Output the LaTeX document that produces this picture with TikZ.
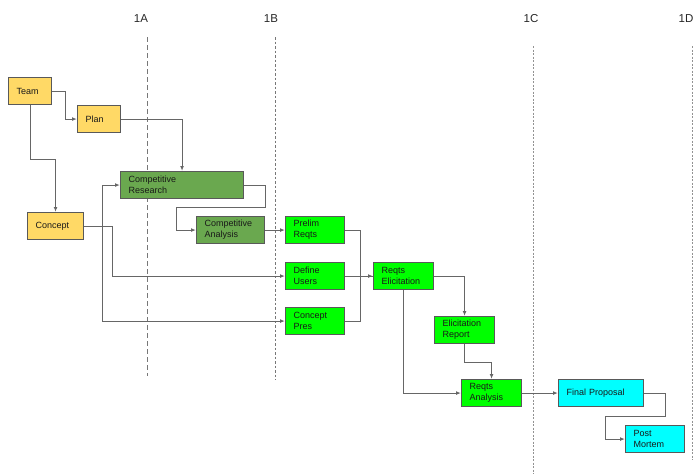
\documentclass[tikz,border=0pt]{standalone}
\usepackage{fontspec}
\setmainfont{Liberation Sans}
\usetikzlibrary{arrows.meta}

\definecolor{boxline}{HTML}{595959}
\definecolor{connline}{HTML}{666666}
\definecolor{startyellow}{HTML}{FFD966}
\definecolor{researchgreen}{HTML}{6AA84F}
\definecolor{reqgreen}{HTML}{00FF00}
\definecolor{finalcyan}{HTML}{00FFFF}
\definecolor{phaseline}{HTML}{777777}

\tikzset{
  taskbox/.style={draw=boxline, line width=1.1pt, anchor=north west,
    inner xsep=8pt, inner ysep=0pt, minimum height=27pt, align=left,
    text width=#1, font=\fontsize{9}{11}\selectfont, text=black!90},
  conn/.style={draw=connline, line width=0.95pt,
    -{Latex[length=5pt,width=3.8pt]}},
  link/.style={draw=connline, line width=0.95pt},
  phaseA/.style={draw=phaseline, line width=0.9pt, dash pattern=on 5pt off 3pt},
  phaseB/.style={draw=phaseline, line width=0.9pt, dash pattern=on 2.5pt off 2pt},
  phaseC/.style={draw=phaseline!80, line width=0.9pt, dash pattern=on 2pt off 1.5pt},
  phaselabel/.style={font=\fontsize{11.5}{13}\selectfont, text=black!85}
}

\begin{document}
\begin{tikzpicture}[x=1pt, y=-1pt]
\useasboundingbox (0,0) rectangle (696,474);

% phase separators and their labels
\node[phaselabel] (lA) at (141,19) {1A};
\node[phaselabel] (lB) at (271,19) {1B};
\node[phaselabel] (lC) at (531,19) {1C};
\node[phaselabel] (lD) at (686,19) {1D};
\draw[phaseA] (147,37) -- (147,376);
\draw[phaseB] (275,37) -- (275,380);
\draw[phaseC] (533,46) -- (533,474);
\draw[phaseC] (692,46) -- (692,460);

% tasks
\node[taskbox=27pt,  fill=startyellow] (team) at (8,77) {Team};
\node[taskbox=27pt,  fill=startyellow] (plan) at (77,105) {Plan};
\node[taskbox=40pt,  fill=startyellow] (concept) at (27,212) {Concept};
\node[taskbox=107pt, fill=researchgreen] (cr) at (120,171) {Competitive\\Research};
\node[taskbox=52pt,  fill=researchgreen] (ca) at (196,216) {Competitive\\Analysis};
\node[taskbox=43pt,  fill=reqgreen] (pr) at (285,216) {Prelim\\Reqts};
\node[taskbox=43pt,  fill=reqgreen] (du) at (285,262) {Define\\Users};
\node[taskbox=43pt,  fill=reqgreen] (cp) at (285,307) {Concept\\Pres};
\node[taskbox=44pt,  fill=reqgreen] (re) at (373,262) {Reqts\\Elicitation};
\node[taskbox=44pt,  fill=reqgreen] (er) at (434,316) {Elicitation\\Report};
\node[taskbox=44pt,  fill=reqgreen] (ra) at (461,379) {Reqts\\Analysis};
\node[taskbox=69pt,  fill=finalcyan] (fp) at (558,379) {Final Proposal};
\node[taskbox=43pt,  fill=finalcyan] (pm) at (625,425) {Post\\Mortem};

% dependencies
\draw[conn] (team.east) -- ++(13,0) |- (plan.west);
\draw[conn] (team.south) -- ++(0,54) -| (concept.north);
\draw[conn] (plan.east) -| (cr.north);
\draw[conn] (concept.east) -- ++(18,0) |- (cr.west);
\draw[conn] (concept.east) -- ++(18,0) |- (cp.west);
\draw[conn] (concept.east) -- ++(28,0) |- (du.west);
\draw[conn] (cr.east) -- ++(21,0) -- ++(0,22.5) -- ++(-89,0) |- (ca.west);
\draw[conn] (ca.east) -- (pr.west);
\draw[link] (pr.east) -- ++(15,0) |- (re.west);
\draw[link] (cp.east) -- ++(15,0) |- (re.west);
\draw[conn] (du.east) -- (re.west);
\draw[conn] (re.east) -| (er.north);
\draw[conn] (re.south) |- (ra.west);
\draw[conn] (er.south) -- ++(0,18) -| (ra.north);
\draw[conn] (ra.east) -- (fp.west);
\draw[conn] (fp.east) -- ++(21,0) -- ++(0,23) -- ++(-60,0) |- (pm.west);
\end{tikzpicture}
\end{document}
